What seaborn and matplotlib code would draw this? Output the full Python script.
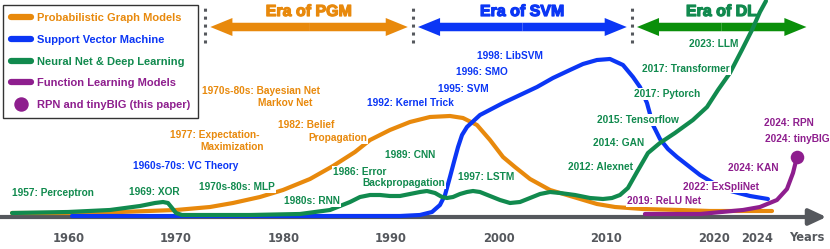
import matplotlib.pyplot as plt
import matplotlib.patheffects as pe
import pandas as pd
import seaborn as sns
from matplotlib.lines import Line2D

# curve data (year, relative popularity)
pgm_year = [1954.77, 1959.97, 1964.8, 1970.01, 1973.17, 1975.3, 1977.81, 1979.95, 1982.46, 1984.6,
            1986.64, 1988.04, 1989.89, 1991.75, 1993.61, 1995.47, 1996.68, 1997.98, 1999.19, 2000.4,
            2001.51, 2002.91, 2004.77, 2007.27, 2009.13, 2010.81, 2013.41, 2016.85, 2019.64, 2022.42,
            2025.4]
pgm_level = [4, 4, 5, 7, 10, 14, 20, 27, 38, 51,
             65, 77, 87, 95, 100, 101, 99, 92, 77, 60,
             50, 38, 27, 19, 13, 10, 8, 7, 6, 6,
             6]

svm_year = [1960.34, 1967.59, 1981.53, 1990.82, 1992.68, 1993.8, 1994.54, 1995.01, 1995.47, 1995.84,
            1996.22, 1996.59, 1997.05, 1998.26, 2000.4, 2001.98, 2003.56, 2005.04, 2006.62, 2007.83,
            2009.13, 2010.34, 2011.55, 2012.48, 2013.13, 2013.78, 2014.34, 2014.99, 2015.73, 2016.57,
            2018.71, 2020.1, 2021.21, 2023.35, 2025.02]
svm_level = [1, 1, 1, 1, 2, 5, 12, 22, 40, 55,
             70, 82, 90, 102, 114, 122, 130, 139, 147, 153,
             157, 158, 152, 140, 130, 114, 92, 78, 68, 60,
             42, 33, 27, 21, 18]

nn_year = [1954.77, 1959.97, 1963.87, 1966.66, 1968.05, 1968.8, 1969.26, 1969.64, 1970.01, 1970.56,
           1972.24, 1976.88, 1981.53, 1984.32, 1985.25, 1986.18, 1987.11, 1988.04, 1988.97, 1989.89,
           1990.82, 1991.75, 1992.68, 1993.33, 1994.08, 1994.73, 1995.19, 1995.75, 1996.4, 1997.05,
           1997.61, 1998.26, 1999.19, 2000.12, 2001.05, 2001.98, 2002.91, 2003.84, 2004.77, 2005.7,
           2007.09, 2008.48, 2009.69, 2010.53, 2011.27, 2012.01, 2012.85, 2013.87, 2014.98, 2016.38,
           2018.05, 2019.36, 2020.38, 2021.49, 2022.6, 2023.54, 2024.28, 2024.84]
nn_level = [4, 5, 7, 11, 14, 15, 14, 9, 4, 2,
            2, 2, 3, 7, 11, 15, 20, 22, 22, 21,
            21, 23, 25, 26, 24, 20, 19, 20, 23, 25,
            26, 25, 21, 17, 14, 15, 19, 23, 25, 24,
            22, 19, 18, 19, 22, 29, 45, 64, 74, 84,
            97, 110, 127, 144, 167, 187, 205, 216]

fl_year = [2013.59, 2018.71, 2022.7, 2024.28, 2025.86, 2026.79, 2027.35, 2027.72]
fl_level = [3, 3, 7, 10, 17, 28, 44, 60]

dot_year = [2027.72]
dot_level = [60]

families = ['Probabilistic Graph Models', 'Support Vector Machine',
            'Neural Net & Deep Learning', 'Function Learning Models']
dot_label = 'RPN and tinyBIG (this paper)'

era_names = ['Era of PGM', 'Era of SVM', 'Era of DL']
era_bounds = [1972.7, 1992.0, 2012.4]
era_start = [1973.2, 1992.5, 2012.85]
era_end = [1991.55, 2011.9, 2028.6]

tick_years = [1960, 1970, 1980, 1990, 2000, 2010, 2020, 2024]

# milestone labels: text, year, level, family index
labels = [
    ('1957: Perceptron', 1954.77, 24, 2),
    ('1969: XOR', 1965.64, 25, 2),
    ('1960s-70s: VC Theory', 1966.01, 51, 1),
    ('1970s-80s: MLP', 1972.14, 30, 2),
    ('1980s: RNN', 1980.04, 16, 2),
    ('1986: Error', 1984.6, 45, 2),
    ('Backpropagation', 1987.29, 34, 2),
    ('1989: CNN', 1989.43, 62, 2),
    ('1977: Expectation-', 1969.45, 82, 0),
    ('Maximization', 1972.24, 70, 0),
    ('1970s-80s: Bayesian Net', 1972.42, 126, 0),
    ('Markov Net', 1977.63, 114, 0),
    ('1982: Belief', 1979.49, 92, 0),
    ('Propagation', 1982.27, 79, 0),
    ('1992: Kernel Trick', 1987.76, 114, 1),
    ('1995: SVM', 1994.36, 128, 1),
    ('1996: SMO', 1996.03, 145, 1),
    ('1998: LibSVM', 1997.98, 161, 1),
    ('1997: LSTM', 1996.21, 40, 2),
    ('2012: Alexnet', 2006.44, 50, 2),
    ('2014: GAN', 2008.76, 74, 2),
    ('2015: Tensorflow', 2009.13, 97, 2),
    ('2017: Pytorch', 2012.57, 123, 2),
    ('2017: Transformer', 2013.31, 148, 2),
    ('2023: LLM', 2017.68, 173, 2),
    ('2024: RPN', 2024.65, 94, 3),
    ('2024: tinyBIG', 2024.75, 78, 3),
    ('2024: KAN', 2021.31, 49, 3),
    ('2022: ExSpliNet', 2017.12, 30, 3),
    ('2019: ReLU Net', 2011.92, 16, 3),
]

colors = ['#E8890C', '#0B36F5', '#118A4E', '#8E1E8E']
era_arrow_colors = ['#E8890C', '#0B36F5', '#0A8F0A']
gray = '#55585D'

df = pd.concat([
    pd.DataFrame({'year': pgm_year, 'level': pgm_level, 'family': families[0]}),
    pd.DataFrame({'year': svm_year, 'level': svm_level, 'family': families[1]}),
    pd.DataFrame({'year': nn_year, 'level': nn_level, 'family': families[2]}),
    pd.DataFrame({'year': fl_year, 'level': fl_level, 'family': families[3]}),
], ignore_index=True)

sns.set_style('white')
plt.rcParams['font.family'] = ['Liberation Sans', 'DejaVu Sans']

fig = plt.figure(figsize=(8.3, 2.49), dpi=100)
ax = fig.add_axes([0, 0, 1, 1])

sns.lineplot(data=df, x='year', y='level', hue='family', hue_order=families,
             palette=dict(zip(families, colors)), estimator=None, sort=False,
             lw=3, legend=False, ax=ax, zorder=3, solid_joinstyle='round')
sns.scatterplot(x=dot_year, y=dot_level, color=colors[3], s=95, linewidth=0,
                ax=ax, zorder=4)

ax.set_xlim(1953.65, 2030.79)
ax.set_ylim(-32, 217)

# time axis
for s in ax.spines.values():
    s.set_visible(False)
ax.spines['bottom'].set_position(('data', 0))
ax.annotate('', xy=(2030.45, 0), xytext=(1953.65, 0),
            arrowprops=dict(arrowstyle='-|>,head_length=0.75,head_width=0.35',
                            mutation_scale=14, lw=3, color=gray,
                            shrinkA=0, shrinkB=0), zorder=2)
ax.set_xticks(tick_years)
ax.set_xticklabels([str(t) for t in tick_years])
ax.tick_params(axis='x', direction='in', length=7, width=1.6, color=gray,
               pad=10.5, labelsize=8.3, labelcolor=gray)
for lbl in ax.get_xticklabels():
    lbl.set_fontweight('bold')
    lbl.set_family('DejaVu Sans')
ax.set_yticks([])
ax.set_xlabel('')
ax.set_ylabel('')
ax.text(2026.98, -20, 'Years', fontsize=8.3, weight='bold', color=gray,
        family='DejaVu Sans', va='center', ha='left')

# eras
for b in era_bounds:
    ax.plot([b, b], [174, 209], color=gray, lw=2.2, ls=(0, (1, 1.6)),
            dash_capstyle='butt')
for name, s0, e0, c, tc in zip(era_names, era_start, era_end, era_arrow_colors,
                               [colors[0], colors[1], colors[2]]):
    mid = (s0 + e0) / 2
    for tgt in (s0, e0):
        ax.arrow(mid, 190, tgt - mid, 0, width=8.5, head_width=18, head_length=2.05,
                 length_includes_head=True, color=c, lw=0, zorder=2)
    ax.text(mid, 205.5, name, ha='center', va='center', fontsize=11.5,
            weight='bold', color=tc,
            path_effects=[pe.withStroke(linewidth=0.9, foreground=tc)])

# milestone labels
for txt, x, y, k in labels:
    ax.text(x, y, txt, ha='left', va='center', fontsize=7.3, weight='bold',
            color=colors[k], zorder=5,
            bbox=dict(boxstyle='square,pad=0.1', fc='white', ec='none'))

# legend
handles = [Line2D([], [], color=c, lw=4.5) for c in colors]
handles.append(Line2D([], [], marker='o', ls='', color=colors[3], markersize=9.4))
leg = ax.legend(handles, families + [dot_label], loc='upper left',
                bbox_to_anchor=(3 / 830, 1 - 5 / 249), borderaxespad=0,
                fancybox=False, edgecolor='#333333', framealpha=1,
                prop=dict(weight='bold', size=8.0), handlelength=1.8,
                handletextpad=0.5, labelspacing=1.05, borderpad=0.75)
leg.get_frame().set_linewidth(1)
leg.set_zorder(10)
for t, c in zip(leg.get_texts(), colors + [colors[3]]):
    t.set_color(c)

plt.savefig('out.png', dpi=100)
plt.close()
